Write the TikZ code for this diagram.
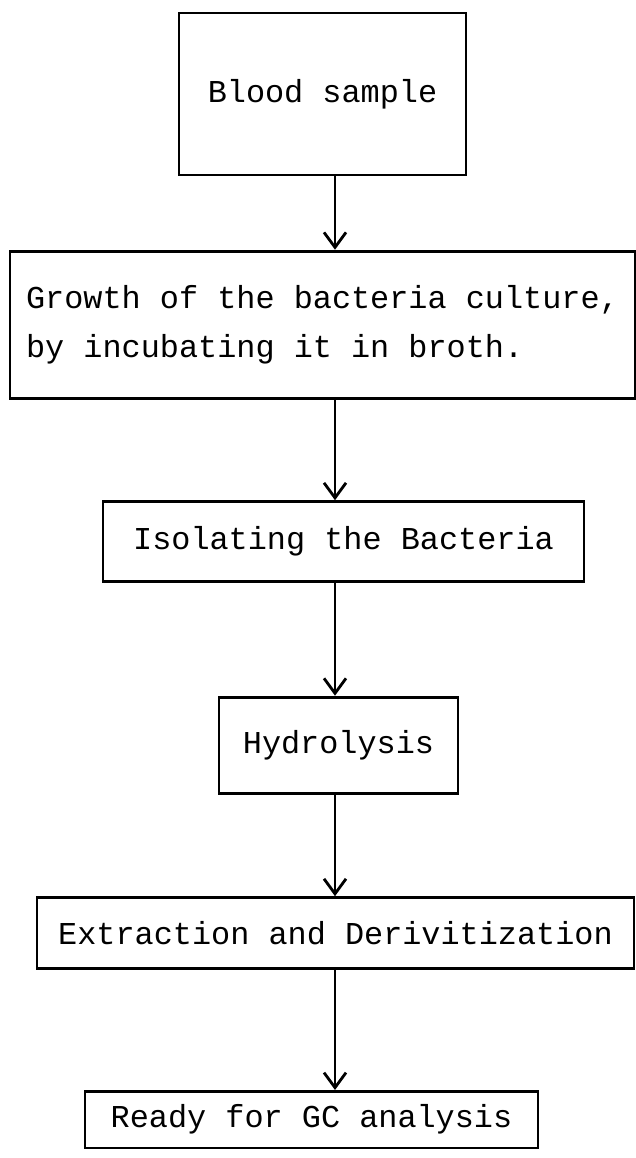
\documentclass[tikz,border=0pt]{standalone}
\usepackage{fontspec}
\setmonofont{Liberation Mono}
\usetikzlibrary{arrows.meta,positioning}

\begin{document}
\begin{tikzpicture}[
  font=\ttfamily\fontsize{27.2pt}{42pt}\selectfont,
  stepbox/.style={draw, line width=2.4pt, inner sep=0pt, align=center},
  flow/.style={-{Straight Barb[length=4.5mm, width=6.6mm]}, line width=2.4pt}
]
\useasboundingbox (0,0) rectangle (19.08,-34.74);
\node[stepbox, minimum width=8.61cm, minimum height=4.86cm] (blood) at (9.675,-2.82) {Blood sample};
\node[stepbox, align=left, minimum width=18.75cm, minimum height=4.41cm, below=2.2cm of blood] (growth) {Growth of the bacteria culture,\\by incubating it in broth.};
\node[stepbox, minimum width=14.43cm, minimum height=2.4cm, below=3.02cm of growth, xshift=0.63cm] (isolate) {Isolating the Bacteria};
\node[stepbox, minimum width=7.17cm, minimum height=2.88cm, below=3.38cm of isolate, xshift=-0.15cm] (hydro) {Hydrolysis};
\node[stepbox, minimum width=17.91cm, minimum height=2.13cm, below=3.05cm of hydro, xshift=-0.09cm] (extract) {Extraction and Derivitization};
\node[stepbox, minimum width=13.59cm, minimum height=1.7cm, below=3.6cm of extract, xshift=-0.72cm] (ready) {Ready for GC analysis};

\coordinate (spine) at (10.05,0);
\draw[flow] (blood.south -| spine) -- (growth.north -| spine);
\draw[flow] (growth.south -| spine) -- (isolate.north -| spine);
\draw[flow] (isolate.south -| spine) -- (hydro.north -| spine);
\draw[flow] (hydro.south -| spine) -- (extract.north -| spine);
\draw[flow] (extract.south -| spine) -- (ready.north -| spine);
\end{tikzpicture}
\end{document}
